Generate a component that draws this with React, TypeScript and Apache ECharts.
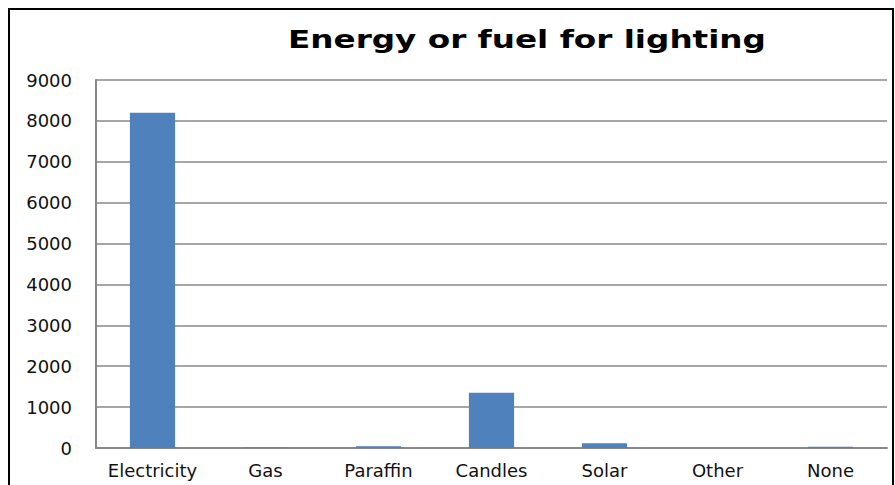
import React, { useEffect, useRef } from "react";
import * as echarts from "echarts";

// Households by main energy source used for lighting
const categories = ["Electricity", "Gas", "Paraffin", "Candles", "Solar", "Other", "None"];
const households = [8200, 15, 45, 1350, 115, 0, 30];
const titleText = "Energy or fuel for lighting";
const yMax = 9000;
const yStep = 1000;

export default function App() {
  const ref = useRef<HTMLDivElement>(null);

  useEffect(() => {
    if (!ref.current) return;
    const chart = echarts.init(ref.current, null, { renderer: "svg" });
    const font = "'DejaVu Sans', sans-serif";
    chart.setOption({
      animation: false,
      backgroundColor: "#ffffff",
      grid: { left: 96, right: 8, top: 80, bottom: 37, containLabel: false },
      graphic: [
        {
          type: "rect",
          shape: { x: 9, y: 9, width: 884, height: 500 },
          style: { fill: "none", stroke: "#000000", lineWidth: 2 },
          z: 10,
        },
        {
          type: "text",
          x: 527,
          y: 40,
          scaleX: 1.36,
          style: {
            text: titleText,
            font: `bold 24px ${font}`,
            fill: "#000000",
            align: "center",
            verticalAlign: "middle",
          },
        },
      ],
      xAxis: {
        type: "category",
        data: categories,
        axisLine: { show: true, lineStyle: { color: "#888888", width: 2 } },
        axisTick: { show: false },
        axisLabel: {
          color: "#111111",
          fontFamily: font,
          fontSize: 18,
          margin: 13,
          interval: 0,
          hideOverlap: false,
        },
      },
      yAxis: {
        type: "value",
        min: 0,
        max: yMax,
        interval: yStep,
        axisLine: { show: true, lineStyle: { color: "#888888", width: 2 } },
        axisTick: { show: false },
        splitLine: { show: true, lineStyle: { color: "#888888", width: 1.5 } },
        axisLabel: {
          color: "#111111",
          fontFamily: font,
          fontSize: 18,
          margin: 24,
          formatter: (v: number) => String(v),
        },
      },
      series: [
        {
          type: "bar",
          data: households,
          barWidth: "40%",
          itemStyle: { color: "#4f81bd" },
        },
      ],
    });
    return () => chart.dispose();
  }, []);

  return (
    <div
      ref={ref}
      style={{ position: "fixed", left: 0, top: 0, width: 895, height: 485, background: "#fff" }}
    />
  );
}
